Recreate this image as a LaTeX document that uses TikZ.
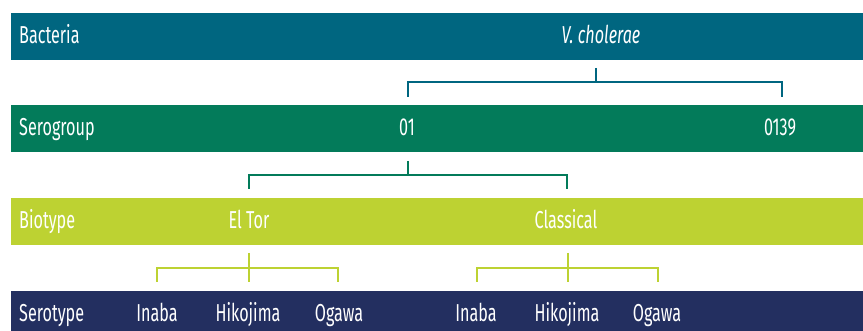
\documentclass[tikz,border=0pt]{standalone}
\usepackage{fontspec}
\setmainfont{Fira Sans}[FakeStretch=0.66]
\definecolor{cbact}{RGB}{0,102,128}
\definecolor{csero}{RGB}{3,123,90}
\definecolor{cbio}{RGB}{189,210,50}
\definecolor{ctype}{RGB}{35,47,96}
\begin{document}
\begin{tikzpicture}[x=1pt,y=-1pt,
  lbl/.style={text=white,font=\fontsize{24.5}{26}\selectfont,inner sep=0pt,anchor=base},
  lblL/.style={lbl,anchor=base west},
  conn/.style={line width=1.6pt,line cap=butt}]
\useasboundingbox (0,0) rectangle (863,331);
% bands
\fill[cbact] (11,13) rectangle (863,60);
\fill[csero] (11,105) rectangle (863,152);
\fill[cbio] (11,198) rectangle (863,245);
\fill[ctype] (11,291) rectangle (863,331);
% labels
\node[lblL] (bact) at (19,44) {Bacteria};
\node[lbl] (vc) at (601,44) {\itshape V. cholerae};
\node[lblL] (sero) at (19,136) {Serogroup};
\node[lbl] (o1) at (407,136) {01};
\node[lbl] (o139) at (780,136) {0139};
\node[lblL] (bio) at (19,229) {Biotype};
\node[lbl] (eltor) at (249,229) {El Tor};
\node[lbl] (class) at (566,229) {Classical};
\node[lblL] (stype) at (19,322) {Serotype};
\node[lbl] (in1) at (157,322) {Inaba};
\node[lbl] (hi1) at (248,322) {Hikojima};
\node[lbl] (og1) at (339,322) {Ogawa};
\node[lbl] (in2) at (476,322) {Inaba};
\node[lbl] (hi2) at (567,322) {Hikojima};
\node[lbl] (og2) at (657,322) {Ogawa};
% tree 1
\coordinate (t1) at (596,68);
\coordinate (j1) at (596,82);
\coordinate (a1) at (408,97);
\coordinate (b1) at (782,97);
\draw[conn,cbact] (t1) -- (j1);
\draw[conn,cbact] (a1) |- (j1) -| (b1);
% tree 2
\coordinate (t2) at (408,161);
\coordinate (j2) at (408,175);
\coordinate (a2) at (249,189);
\coordinate (b2) at (567,189);
\draw[conn,csero] (t2) -- (j2);
\draw[conn,csero] (a2) |- (j2) -| (b2);
% tree 3a
\coordinate (t3) at (249,253);
\coordinate (m3) at (249,282);
\coordinate (j3) at (249,268);
\coordinate (a3) at (157,282);
\coordinate (b3) at (338,282);
\draw[conn,cbio] (t3) -- (m3);
\draw[conn,cbio] (a3) |- (j3) -| (b3);
% tree 3b
\coordinate (t4) at (568,253);
\coordinate (m4) at (568,282);
\coordinate (j4) at (568,268);
\coordinate (a4) at (477,282);
\coordinate (b4) at (658,282);
\draw[conn,cbio] (t4) -- (m4);
\draw[conn,cbio] (a4) |- (j4) -| (b4);
\end{tikzpicture}
\end{document}
